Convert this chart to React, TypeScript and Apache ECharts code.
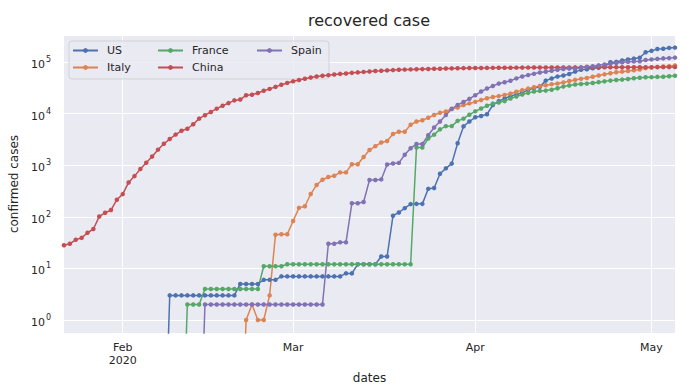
import React, { useEffect, useRef } from 'react';
import * as echarts from 'echarts';

// Daily dates: 2020-01-22 .. 2020-05-05 (105 days)
const FIRST_DAY = Date.UTC(2020, 0, 22);
const DAY_COUNT = 105;
const dates: string[] = [];
for (let i = 0; i < DAY_COUNT; i++) {
  dates.push(new Date(FIRST_DAY + i * 86400000).toISOString().slice(0, 10));
}

const seriesNames = ['US', 'Italy', 'France', 'China', 'Spain'];
const colors = ['#4c72b0', '#dd8452', '#55a868', '#c44e52', '#8172b3'];
const monthNames = ['Jan', 'Feb', 'Mar', 'Apr', 'May', 'Jun'];

const US = [
  0, 0, 0, 0, 0, 0, 0, 0, 0, 0, 0, 0, 0, 0, 0, 0, 0, 0,
  3, 3, 3, 3, 3, 3, 3, 3, 3, 3, 3, 3,
  5, 5, 5, 5,
  6, 6, 6,
  7, 7, 7, 7, 7, 7, 7, 7, 7, 7, 7,
  8, 8,
  12, 12, 12, 12,
  17, 17,
  105, 121, 147, 176, 178, 178, 348, 361, 681, 869,
  1072, 2665, 5644, 7024, 8474, 9001, 9707, 14652, 17448, 19581,
  21763, 23559, 25410, 28790, 31270, 32988, 43482, 47763, 52096, 54703,
  58545, 64840, 70337, 72329, 75204, 77366, 80203, 99079, 100372, 106988,
  111424, 115936, 120720, 153947, 164015, 178263, 180152, 187180, 189791,
];

const Italy = [
  0, 0, 0, 0, 0, 0, 0, 0, 0, 0, 0, 0, 0, 0, 0, 0, 0, 0, 0, 0, 0, 0, 0, 0, 0, 0, 0, 0, 0, 0, 0,
  1, 2, 1, 1, 3, 45, 46, 46, 83, 149,
  160, 276, 414, 523, 589, 622, 724, 724, 1045, 1045,
  1439, 1966, 2335, 2749, 2941, 4025, 4440, 4440, 6072, 7024,
  7432, 8326, 9362, 10361, 10950, 12384, 13030, 14620, 15729, 16847,
  18278, 19758, 20996, 21815, 22837, 24392, 26491, 28470, 30455, 32534,
  34211, 35435, 37130, 38092, 40164, 42727, 44927, 47055, 48877, 51600,
  54543, 57576, 60498, 63120, 64928, 66624, 68941, 71252, 75945, 78249,
  79914, 81654, 82879, 85231,
];

const France = [
  0, 0, 0, 0, 0, 0, 0, 0, 0, 0, 0, 0, 0, 0, 0, 0, 0, 0, 0, 0, 0,
  2, 2, 2,
  4, 4, 4, 4, 4, 4, 4, 4, 4, 4,
  11, 11, 11, 11,
  12, 12, 12, 12, 12, 12, 12, 12, 12, 12, 12, 12, 12, 12, 12, 12, 12, 12, 12, 12, 12, 12,
  2200, 2200, 3281, 3900, 4948, 5700, 5724, 7226, 7964, 9513,
  11053, 12548, 14135, 15572, 16349, 17428, 19523, 21452, 23413, 25195,
  26663, 27469, 27847, 28935, 30955, 33327, 35006, 36578, 37409, 38062,
  39181, 40657, 42088, 43493, 44594, 45513, 46886, 48228, 49476, 50562,
  50784, 51371, 51654, 52736, 53972,
];

const China = [
  28, 30, 36, 39, 49, 58, 101, 120, 135, 214,
  275, 463, 614, 843, 1115, 1476, 1998, 2595, 3218, 3917,
  4635, 5079, 6213, 7973, 9294, 10748, 12455, 14199, 15952, 18002,
  18693, 22687, 23170, 24990, 27650, 30053, 32898, 36291, 39279,
  42118, 44810, 47404, 49955, 52240, 53888, 55478, 57320, 58735, 59882,
  61475, 62793, 64111, 65541, 66911, 67749, 68679, 69601, 70420, 71150,
  71740, 72244, 72703, 73159, 73650, 74051, 74600, 75100, 75582, 75923, 76206,
  76405, 76565, 76760, 76946, 77207, 77310, 77410, 77567, 77679, 77791,
  77877, 77956, 78034, 78096, 78200, 78310, 78402, 78474, 78560, 78630,
  78691, 78742, 78836, 78866, 78919, 78998, 79036, 79071, 79143, 79196,
  79266, 79375, 79439, 79493, 79522,
];

const Spain = [
  0, 0, 0, 0, 0, 0, 0, 0, 0, 0, 0, 0, 0, 0, 0, 0, 0, 0, 0, 0, 0, 0, 0, 0,
  2, 2, 2, 2, 2, 2, 2, 2, 2, 2, 2, 2, 2, 2, 2, 2, 2, 2, 2, 2, 2,
  30, 30, 32, 32, 183, 183, 193, 517, 517, 530,
  1028, 1081, 1107, 1588, 2125, 2575, 2575, 3794, 5367, 7015,
  9357, 12285, 14709, 16780, 19259, 22647, 26743, 30513, 34219, 38080,
  40437, 43208, 48021, 52165, 55668, 58895, 62391, 64727, 67504, 70853,
  72963, 74662, 74797, 77357, 80587, 82514, 85915, 89250, 92355, 95708,
  98372, 100875, 102548, 103559, 108947, 112050, 114678, 117248, 118902, 121343,
];

const seriesValues = [US, Italy, France, China, Spain];

const TEXT = '#262626';
const FONT = 'DejaVu Sans';

// matplotlib log scale clips non-positive values to a tiny number
const forLog = (v: number) => (v > 0 ? v : 1e-3);

export default function App() {
  const ref = useRef<HTMLDivElement>(null);

  useEffect(() => {
    const chart = echarts.init(ref.current!, undefined, { renderer: 'svg' });
    const legendBase = {
      orient: 'vertical' as const,
      top: 44,
      padding: 0,
      itemGap: 4,
      itemWidth: 25,
      itemHeight: 6,
      selectedMode: false,
      textStyle: {
        fontSize: 11,
        color: TEXT,
        fontFamily: FONT,
        lineHeight: 13,
        padding: [0, 0, 0, 4],
      },
    };
    chart.setOption({
      animation: false,
      backgroundColor: '#ffffff',
      textStyle: { fontFamily: FONT, color: TEXT },
      title: {
        text: 'recovered case',
        left: 369,
        top: 12,
        padding: 0,
        textAlign: 'center',
        textStyle: { fontSize: 16, fontWeight: 'normal', color: TEXT, fontFamily: FONT },
      },
      grid: { left: 63, right: 16, top: 35, bottom: 58, show: true, backgroundColor: '#eaeaf2', borderWidth: 0 },
      legend: [
        { ...legendBase, left: 72, data: ['US', 'Italy'] },
        { ...legendBase, left: 157, data: ['France', 'China'] },
        { ...legendBase, left: 256, data: ['Spain'] },
      ],
      graphic: [
        {
          type: 'rect',
          z: 3,
          shape: { x: 69, y: 41, width: 260, height: 38, r: 3 },
          style: { fill: 'rgba(234,234,242,0.8)', stroke: 'rgba(204,204,204,0.8)', lineWidth: 1 },
          silent: true,
        },
      ],
      xAxis: {
        type: 'category',
        data: dates,
        boundaryGap: false,
        name: 'dates',
        nameLocation: 'middle',
        nameGap: 38,
        nameTextStyle: { fontSize: 12, color: TEXT, fontFamily: FONT },
        axisLine: { show: false },
        axisTick: { show: false },
        axisLabel: {
          interval: (_i: number, v: string) => v.slice(8) === '01',
          formatter: (v: string) => {
            const m = Number(v.slice(5, 7));
            return m === 2 ? `${monthNames[m - 1]}\n2020` : monthNames[m - 1];
          },
          fontSize: 11,
          lineHeight: 13,
          color: TEXT,
          margin: 8,
          fontFamily: FONT,
        },
        splitLine: {
          show: true,
          interval: (_i: number, v: string) => v.slice(8) === '01',
          lineStyle: { color: '#ffffff', width: 1 },
        },
      },
      yAxis: {
        type: 'log',
        logBase: 10,
        min: 0.56,
        max: 333000,
        name: 'confirmed cases',
        nameLocation: 'middle',
        nameRotate: 90,
        nameGap: 39,
        nameTextStyle: { fontSize: 12, color: TEXT, fontFamily: FONT },
        axisLine: { show: false },
        axisTick: { show: false },
        minorTick: { show: false },
        axisLabel: {
          margin: 13,
          showMinLabel: false,
          showMaxLabel: false,
          formatter: (v: number) => {
            const e = Math.round(Math.log10(v));
            if (Math.abs(v - Math.pow(10, e)) / Math.pow(10, e) < 1e-6) return `{b|10}{s|${e}}`;
            return '';
          },
          rich: {
            b: { fontSize: 11, lineHeight: 13, padding: [5, 0, 0, 0], color: TEXT, fontFamily: FONT },
            s: { fontSize: 8, lineHeight: 4, verticalAlign: 'top', color: TEXT, fontFamily: FONT, padding: [0, 0, 0, 1] },
          },
        },
        splitLine: { show: true, lineStyle: { color: '#ffffff', width: 1 } },
      },
      series: seriesNames.map((name, i) => ({
        name,
        type: 'line',
        data: seriesValues[i].map(forLog),
        color: colors[i],
        symbol: 'circle',
        symbolSize: 4.5,
        showSymbol: true,
        showAllSymbol: true,
        clip: true,
        lineStyle: { width: 1.5, color: colors[i] },
        itemStyle: { color: colors[i] },
        emphasis: { disabled: true },
      })),
    });
    return () => chart.dispose();
  }, []);

  return <div ref={ref} style={{ position: 'fixed', left: 0, top: 0, width: 691, height: 391 }} />;
}
